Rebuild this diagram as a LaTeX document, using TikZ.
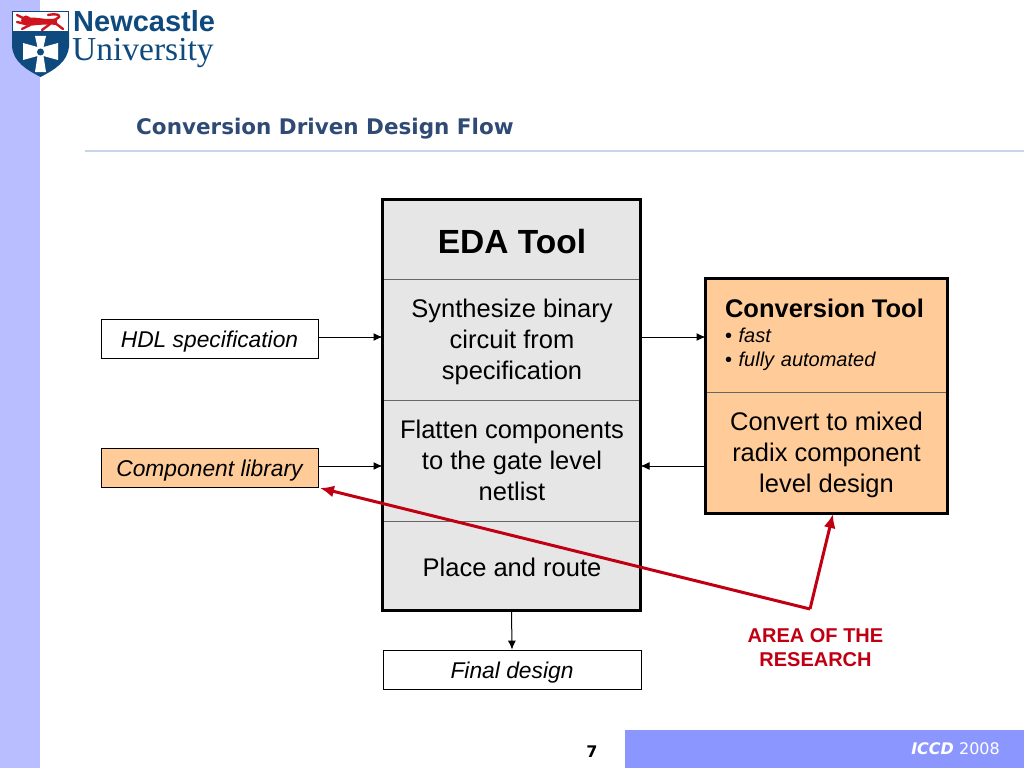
\documentclass[tikz,border=0pt]{standalone}
\usepackage{fontspec}
\setmainfont{Liberation Sans}
\newfontfamily\verdfont{DejaVu Sans}
\newfontfamily\logofont{Liberation Serif}
\usetikzlibrary{arrows.meta}

\definecolor{stripblue}{HTML}{B8BEFF}
\definecolor{footblue}{HTML}{8C96FF}
\definecolor{titleblue}{HTML}{2F4A75}
\definecolor{ruleblue}{HTML}{C6D4EE}
\definecolor{cellgray}{HTML}{E6E6E6}
\definecolor{peach}{HTML}{FFCC99}
\definecolor{darkred}{HTML}{C00012}
\definecolor{logoblue}{HTML}{0F4A7E}
\definecolor{lionred}{HTML}{D0141E}

\newcommand{\cellup}{\rule{0pt}{23pt}}

\tikzset{
	cell/.style={draw=black!60, fill=#1, line width=1pt, minimum width=258pt, align=center, inner sep=0pt, font=\fontsize{25.5}{31}\selectfont},
	cell/.default=cellgray,
	inbox/.style={draw=black, fill=#1, line width=0.8pt, minimum height=39pt, inner sep=0pt, font=\fontsize{22.8}{28}\selectfont\itshape, execute at begin node={\rule{0pt}{22.5pt}}},
	inbox/.default=white,
	link/.style={line width=1pt, -{Latex[length=9pt,width=8pt]}},
	redlink/.style={draw=darkred, line width=3pt, -{Latex[length=14pt,width=12pt]}},
	frame/.style={draw=black, line width=3pt, fill=none, inner sep=0pt, outer sep=0pt},
	lionleg/.style={lionred, line width=2.4pt, line cap=round},
}

\begin{document}
\begin{tikzpicture}[x=1pt, y=-1pt]
	\useasboundingbox (0,0) rectangle (1024,768);

	% slide background
	\fill [stripblue] (0,0) rectangle (40,768);
	\fill [footblue] (625,730) rectangle (1024,768);
	\draw [ruleblue, line width=1.2pt] (85,151) -- (1024,151);

	% logo
	\fill [white] (12,11) rectangle (69,33);
	\fill [logoblue] (12,32) -- (69,32) -- (69,46) .. controls (68,62) and (54,70) .. (40.5,77) .. controls (27,70) and (13,62) .. (12,46) -- cycle;
	\draw [logoblue, line width=1pt] (12.5,11.5) rectangle (68.5,32);
	\fill [lionred] (26,20.5) circle[radius=5];
	\fill [lionred] (27,18) .. controls (36,16) and (46,21) .. (57,18) -- (57,25) .. controls (46,24) and (36,25) .. (29,26) -- cycle;
	\draw [lionleg] (25,19) -- (17,15);
	\draw [lionleg] (26,24) -- (17,22) (30,25) -- (22,29);
	\draw [lionleg] (55,23) -- (63,29) (50,24) -- (42,30);
	\draw [lionleg] (56,19) .. controls (63,16) and (58,13) .. (48,15);
	\fill [white] (35,36) -- (46,36) -- (43.5,47) -- (58,43) -- (58,60) -- (43.5,56) -- (46,72) -- (35,72) -- (37.5,56) -- (23,60) -- (23,43) -- (37.5,47) -- cycle;
	\fill [logoblue] (40.5,52) circle[radius=3.5];
	\node (newcastle) [anchor=base west, inner sep=0pt, font=\fontsize{29}{29}\selectfont\bfseries, text=logoblue] at (73,32) {Newcastle};
	\node (university) [anchor=base west, inner sep=0pt, font=\fontsize{33.5}{33.5}\logofont, text=logoblue] at (72,60) {University};

	% title and footer
	\node (title) [anchor=west, inner sep=0pt, font=\fontsize{21.5}{24}\verdfont\bfseries, text=titleblue] at (136,129) {Conversion Driven Design Flow};
	\node (pagenum) [inner sep=0pt, font=\fontsize{16}{16}\verdfont\bfseries] at (592,752) {7};
	\node (conf) [anchor=east, inner sep=0pt, font=\fontsize{16}{16}\verdfont, text=white] at (1000,749) {\textbf{\textit{ICCD}} 2008};

	% EDA tool column
	\node (edahead) [cell, minimum height=80pt, font=\fontsize{33.5}{40}\selectfont\bfseries, execute at begin node={\rule{0pt}{29pt}}] at (512,239) {EDA Tool};
	\node (synth) [cell, minimum height=121pt] at (512,339.5) {\cellup Synthesize binary\\circuit from\\specification};
	\node (flatten) [cell, minimum height=121pt] at (512,460.5) {Flatten components\\to the gate level\\netlist};
	\node (place) [cell, minimum height=89pt, execute at begin node={\rule{0pt}{23pt}}] at (512,565.5) {Place and route};
	\node (eda) [frame, minimum width=258pt, minimum height=411pt] at (511.5,404.5) {};

	% conversion tool
	\node (convhead) [cell=peach, minimum width=242pt, minimum height=114pt, text width=203pt, align=left, font=\fontsize{20}{24}\selectfont] at (826.5,335) {{\fontsize{25.5}{24}\selectfont\textbf{Conversion Tool}}\\[1pt]• \textit{fast}\\• \textit{fully automated}\\[5pt]};
	\node (convert) [cell=peach, minimum width=242pt, minimum height=122pt] at (826.5,453) {\cellup Convert to mixed\\radix component\\level design};
	\node (conv) [frame, minimum width=242pt, minimum height=235pt] at (826.5,396) {};

	% inputs and output
	\node (hdl) [inbox, minimum width=217pt] at (209.5,339) {HDL specification};
	\node (complib) [inbox=peach, minimum width=217pt] at (209.5,468) {Component library};
	\node (final) [inbox, minimum width=258pt] at (512,669.5) {Final design};

	\coordinate (hdlout) at (319,337);
	\coordinate (libout) at (319,466);
	\coordinate (libtip) at (320,488);
	\coordinate (convtip) at (833,514);
	\coordinate (bend) at (810,609);

	\draw [link] (hdlout) -- (hdlout -| eda.west);
	\draw [link] (libout) -- (libout -| eda.west);
	\draw [link] (hdlout -| eda.east) -- (hdlout -| conv.west);
	\draw [link] (libout -| conv.west) -- (libout -| eda.east);
	\draw [link] (eda.south) -- (final.north);

	% red feedback
	\draw [redlink] (bend) -- (libtip);
	\draw [redlink] (bend) -- (convtip);
	\node (area) [align=center, inner sep=0pt, text=darkred, font=\fontsize{20}{24}\selectfont\bfseries] at (815.5,648) {AREA OF THE\\RESEARCH};
\end{tikzpicture}
\end{document}
